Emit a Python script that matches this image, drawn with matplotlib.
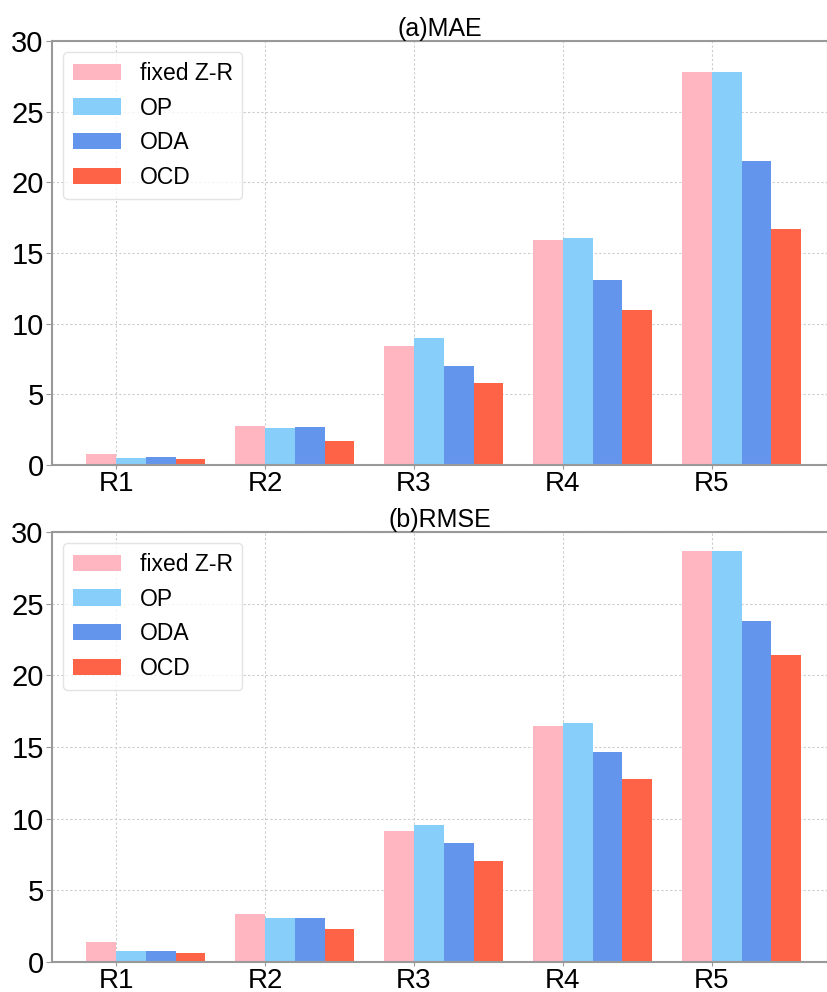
import matplotlib
matplotlib.use("Agg")
import matplotlib.pyplot as plt
import numpy as np

plt.rcParams['font.family'] = ['Liberation Sans', 'DejaVu Sans']

regions = ["R1", "R2", "R3", "R4", "R5"]
series_names = ["fixed Z-R", "OP", "ODA", "OCD"]
colors = ["#FFB6C1", "#87CEFA", "#6495ED", "#FF6347"]

mae_fixed = [0.78, 2.74, 8.44, 15.89, 27.79]
mae_op = [0.52, 2.60, 9.00, 16.08, 27.79]
mae_oda = [0.57, 2.69, 7.04, 13.10, 21.51]
mae_ocd = [0.45, 1.72, 5.79, 10.94, 16.70]

rmse_fixed = [1.38, 3.35, 9.13, 16.49, 28.66]
rmse_op = [0.80, 3.10, 9.55, 16.65, 28.66]
rmse_oda = [0.80, 3.10, 8.32, 14.67, 23.82]
rmse_ocd = [0.61, 2.27, 7.08, 12.74, 21.42]

W, H = 828, 992
fig = plt.figure(figsize=(W / 100, H / 100), dpi=100)

def make_ax(top_px, bottom_px):
    left = 52 / W
    right = 828 / W
    return fig.add_axes([left, 1 - bottom_px / H, right - left, (bottom_px - top_px) / H])

ax1 = make_ax(41, 465)
ax2 = make_ax(532, 962)

def draw(ax, data, title):
    x = np.arange(len(regions))
    width = 0.2
    for k, (vals, name, c) in enumerate(zip(data, series_names, colors)):
        ax.bar(x + (k - 0.5) * width, vals, width, color=c, label=name, zorder=2)
    ax.set_xticks(x)
    ax.set_xticklabels(regions, fontsize=20)
    ax.set_yticks([0, 5, 10, 15, 20, 25, 30])
    ax.tick_params(axis='y', labelsize=21, length=4, color='#999999', pad=2)
    ax.tick_params(axis='x', length=3, color='#999999', pad=1)
    ax.set_ylim(0, 30)
    ax.set_xlim(-0.43, 4.78)
    ax.grid(True, linestyle=(0, (2, 2)), color='#cccccc', linewidth=0.8, zorder=0)
    ax.set_axisbelow(True)
    for s in ax.spines.values():
        s.set_color('#999999')
        s.set_linewidth(1.5)
    ax.set_title(title, fontsize=18, pad=3)
    leg = ax.legend(loc='upper left', fontsize=16.5, handlelength=2.1, handleheight=0.7,
                    borderpad=0.4, labelspacing=0.52, handletextpad=0.85,
                    frameon=True, fancybox=True, borderaxespad=0.5)
    leg.get_frame().set_edgecolor('#dddddd')
    leg.get_frame().set_linewidth(1.0)

draw(ax1, [mae_fixed, mae_op, mae_oda, mae_ocd], "(a)MAE")
draw(ax2, [rmse_fixed, rmse_op, rmse_oda, rmse_ocd], "(b)RMSE")

fig.savefig("out.png", dpi=100)
